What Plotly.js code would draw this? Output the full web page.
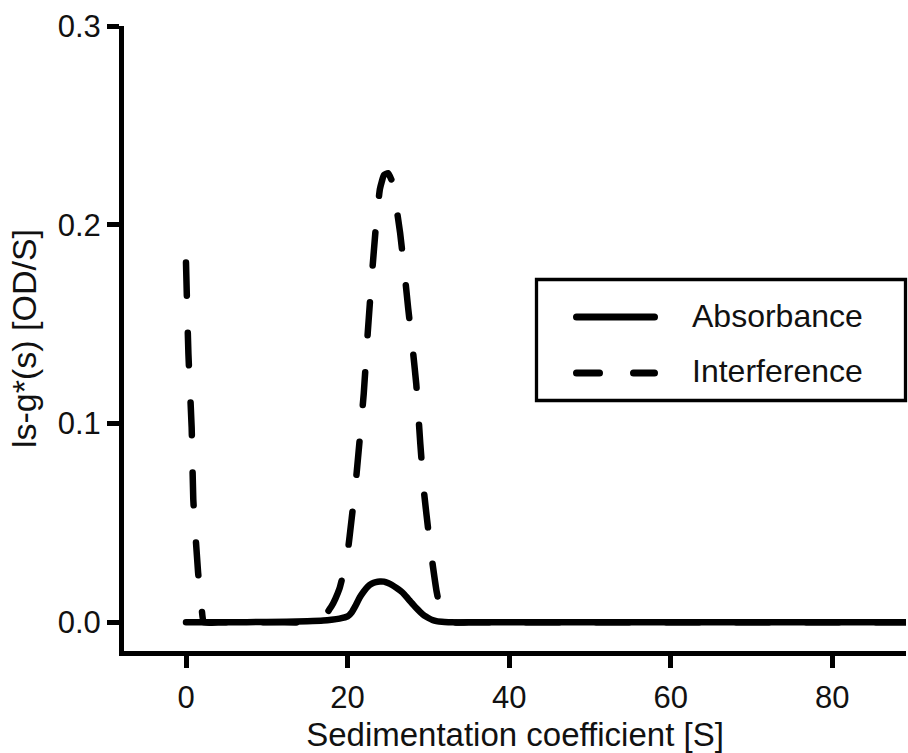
<!DOCTYPE html>
<html>
<head>
<meta charset="utf-8">
<script src="https://cdn.plot.ly/plotly-3.0.1.min.js"></script>
<style>
  html, body { margin: 0; padding: 0; background: #fff; }
  #chart { width: 908px; height: 753px; }
  .js-line { stroke-linecap: round; stroke-linejoin: round; }
  .shapelayer path { stroke-linecap: round; }
</style>
</head>
<body>
<div id="chart"></div>
<script>
// ---- data ----
const absX = [0, 5, 10, 15, 17, 18, 19, 20, 20.5, 21, 21.5, 22, 22.5, 23, 23.5, 24, 24.5, 25, 25.5, 26, 26.5, 27, 27.5, 28, 28.5, 29, 29.5, 30, 30.5, 31, 32, 33, 35, 40, 50, 60, 70, 80, 89.5];
const absY = [0, 0, 0.0002, 0.0006, 0.0009, 0.0013, 0.0019, 0.003, 0.005, 0.0085, 0.0125, 0.0155, 0.018, 0.0195, 0.0203, 0.0206, 0.0205, 0.0198, 0.0188, 0.0175, 0.016, 0.0142, 0.0118, 0.0095, 0.0072, 0.0052, 0.0034, 0.0022, 0.0012, 0.0006, 0.0002, 0, 0, 0, 0, 0, 0, 0, 0];

const intX = [0, 0.3, 0.7, 0.9, 1.5, 1.9, 2.2, 4, 8, 12, 15, 16, 17, 17.5, 18, 18.5, 19, 19.5, 20, 20.5, 21, 21.5, 22, 22.5, 23, 23.5, 24, 24.5, 25, 25.5, 26, 26.5, 27, 27.5, 28, 28.5, 29, 29.5, 30, 30.5, 31, 31.5, 32, 32.5, 35, 40, 50, 60, 70, 80, 89.5];
const intY = [0.181, 0.135, 0.098, 0.062, 0.025, 0.009, 0, 0, 0, 0, 0, 0.0004, 0.002, 0.005, 0.008, 0.012, 0.017, 0.025, 0.035, 0.052, 0.070, 0.092, 0.115, 0.146, 0.174, 0.199, 0.218, 0.225, 0.226, 0.222, 0.210, 0.196, 0.178, 0.158, 0.140, 0.120, 0.090, 0.064, 0.046, 0.030, 0.016, 0.006, 0.001, 0, 0, 0, 0, 0, 0, 0, 0];

const seriesNames = ["Absorbance", "Interference"];
const xTicks = [0, 20, 40, 60, 80];
const yTicks = [0.0, 0.1, 0.2, 0.3];
const yTickText = ["0.0", "0.1", "0.2", "0.3"];
const xTitle = "Sedimentation coefficient [S]";
const yTitle = "ls-g*(s) [OD/S]";

// ---- layout geometry ----
const W = 908, H = 753;
const M = { l: 124, r: 2, t: 26, b: 102 };
const pw = W - M.l - M.r, ph = H - M.t - M.b;
const px = v => (v - M.l) / pw;          // pixel -> paper x
const py = v => (H - M.b - v) / ph;      // pixel -> paper y

const FONT = "Liberation Sans, Arial, sans-serif";
const INK = "#111";

const traces = [
  { x: absX, y: absY, name: seriesNames[0], type: "scatter", mode: "lines",
    line: { color: "#000", width: 6.5, shape: "spline", smoothing: 0.6 }, showlegend: false },
  { x: intX, y: intY, name: seriesNames[1], type: "scatter", mode: "lines",
    line: { color: "#000", width: 6.5, dash: "33px,37px", shape: "spline", smoothing: 0.4 }, showlegend: false }
];

const legendShapes = [
  { type: "rect", xref: "paper", yref: "paper",
    x0: px(536.5), x1: px(905.5), y0: py(400.5), y1: py(279.5),
    line: { color: "#000", width: 3.3 }, fillcolor: "rgba(255,255,255,1)", layer: "above" },
  { type: "line", xref: "paper", yref: "paper",
    x0: px(576.5), x1: px(654.5), y0: py(317), y1: py(317),
    line: { color: "#000", width: 7 }, layer: "above" },
  { type: "line", xref: "paper", yref: "paper",
    x0: px(576.5), x1: px(654.5), y0: py(373), y1: py(373),
    line: { color: "#000", width: 7, dash: "23px,34px" }, layer: "above" }
];

const legendText = [
  { text: seriesNames[0], xref: "paper", yref: "paper", x: px(690), y: py(316),
    xanchor: "left", yanchor: "middle", showarrow: false, font: { family: FONT, size: 32, color: INK } },
  { text: seriesNames[1], xref: "paper", yref: "paper", x: px(690), y: py(371),
    xanchor: "left", yanchor: "middle", showarrow: false, font: { family: FONT, size: 32, color: INK } }
];

const layout = {
  width: W, height: H,
  margin: M,
  paper_bgcolor: "#fff", plot_bgcolor: "#fff",
  showlegend: false,
  font: { family: FONT, color: INK, size: 31 },
  xaxis: {
    range: [(M.l - 186) / 8.079, (W - M.r - 186) / 8.079],
    tickvals: xTicks, ticktext: xTicks.map(String),
    showgrid: false, zeroline: false,
    showline: true, linecolor: "#000", linewidth: 5,
    ticks: "outside", ticklen: 12, tickwidth: 5, tickcolor: "#000",
    ticklabelstandoff: 3,
    tickfont: { family: FONT, size: 31, color: INK },
    title: { text: xTitle, font: { family: FONT, size: 33, color: INK }, standoff: 10 },
    automargin: false
  },
  yaxis: {
    range: [-0.0144, 0.3],
    tickvals: yTicks, ticktext: yTickText,
    showgrid: false, zeroline: false,
    showline: true, linecolor: "#000", linewidth: 5,
    ticks: "outside", ticklen: 12, tickwidth: 5, tickcolor: "#000",
    tickfont: { family: FONT, size: 31, color: INK },
    title: { text: yTitle, font: { family: FONT, size: 34, color: INK }, standoff: 12 },
    automargin: false
  },
  shapes: legendShapes,
  annotations: legendText
};

Plotly.newPlot("chart", traces, layout, { staticPlot: true, displayModeBar: false });
</script>
</body>
</html>
